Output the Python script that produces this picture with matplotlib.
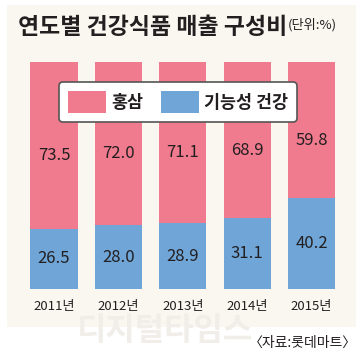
import matplotlib.pyplot as plt
from matplotlib.patches import Rectangle

plt.rcParams['font.family'] = ['Noto Sans CJK KR', 'DejaVu Sans']

# 데이터
years = ['2011년', '2012년', '2013년', '2014년', '2015년']
ginseng = [73.5, 72.0, 71.1, 68.9, 59.8]
functional = [26.5, 28.0, 28.9, 31.1, 40.2]
series_names = ['홍삼', '기능성 건강']

pink = '#f07a8e'
blue = '#6fa5d7'
cream = '#faf7f1'
dark = '#231f20'

fig = plt.figure(figsize=(3.62, 3.56), dpi=100)
fig.patch.set_facecolor('white')

# 배경 패널
fig.add_artist(Rectangle((7 / 362, 1 - 327 / 356), 349 / 362, 322 / 356,
                         transform=fig.transFigure, facecolor=cream,
                         edgecolor='none', zorder=0))

# 워터마크
fig.text(0.455, 1 - 331 / 356, '디지털타임스', ha='center', va='center',
         fontsize=23, color='#f1eee9', fontweight='bold', zorder=0.5)

ax = fig.add_axes([21.8 / 362, (356 - 289) / 356, 322 / 362, 227 / 356])
ax.set_facecolor('none')
x = range(len(years))
b1 = ax.bar(x, functional, width=0.73, color=blue, label=series_names[1])
b2 = ax.bar(x, ginseng, width=0.73, bottom=functional, color=pink,
            label=series_names[0])
ax.set_xlim(-0.5, len(years) - 0.5)
ax.set_ylim(0, 100)
for s in ax.spines.values():
    s.set_visible(False)
ax.set_yticks([])
ax.set_xticks(list(x))
ax.set_xticklabels(years, fontsize=9.5, color=dark)
ax.tick_params(axis='x', length=0, pad=8)

# 값 라벨
for i in x:
    ax.text(i, functional[i] / 2, f'{functional[i]:.1f}', ha='center',
            va='center', fontsize=12, fontweight='medium', color=dark)
    ax.text(i, functional[i] + ginseng[i] / 2 - 4.5, f'{ginseng[i]:.1f}',
            ha='center', va='center', fontsize=12, fontweight='medium',
            color=dark)

# 범례
leg = ax.legend(handles=[b2, b1], loc='center', ncol=2,
                bbox_to_anchor=(0.485, 0.824), fontsize=12.5, frameon=True,
                fancybox=True, edgecolor='#555555', facecolor='white',
                framealpha=1, handlelength=2.2, handleheight=1.6,
                handletextpad=0.3, columnspacing=1.0, borderpad=0.5)
leg.get_frame().set_linewidth(1.2)
for t in leg.get_texts():
    t.set_fontweight('bold')
    t.set_color(dark)

# 제목
fig.text(18 / 362, 1 - 28 / 356, '연도별 건강식품 매출 구성비', ha='left',
         va='center', fontsize=16.5, fontweight='black', color=dark)
fig.text(288 / 362, 1 - 25 / 356, '(단위:%)', ha='left', va='center',
         fontsize=9.5, color=dark)

# 출처
fig.text(357 / 362, 1 - 343 / 356, '〈자료:롯데마트〉', ha='right',
         va='center', fontsize=10, color=dark)

fig.savefig('out.png', dpi=100, facecolor='white')
